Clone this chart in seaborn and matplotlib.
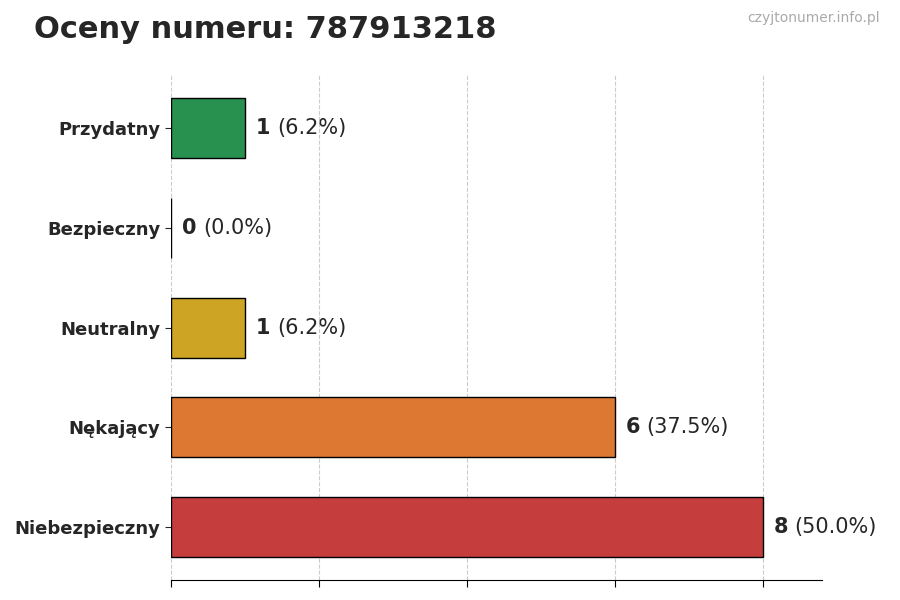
import matplotlib
matplotlib.use("Agg")
import matplotlib.pyplot as plt
import seaborn as sns
import pandas as pd

# dane
kategorie = ['Przydatny', 'Bezpieczny', 'Neutralny', 'Nękający', 'Niebezpieczny']
liczby = [1, 0, 1, 6, 8]
kolory = ['#16a34a', '#2563eb', '#eab308', '#f97316', '#dc2626']
numer = '787913218'

df = pd.DataFrame({'kat': kategorie, 'n': liczby})
suma = sum(liczby)

sns.set_style('white')
plt.rcParams['font.family'] = ['DejaVu Sans']

fig = plt.figure(figsize=(9, 6), dpi=100)
ax = fig.add_axes([0.19, 0.033, 0.723, 0.842])

sns.barplot(data=df, y='kat', x='n', hue='kat', palette=kolory, orient='h',
            width=0.6, edgecolor='black', linewidth=1, legend=False, ax=ax)

ax.set_xlim(0, 8.8)
ax.set_ylim(4.53, -0.53)
ax.set_xticks([0, 2, 4, 6, 8])
ax.set_xticklabels([])
ax.tick_params(axis='x', length=5, color='black', bottom=True)
ax.tick_params(axis='y', length=4, left=True, labelsize=13)
for lab in ax.get_yticklabels():
    lab.set_fontweight('bold')
ax.set_xlabel('')
ax.set_ylabel('')
ax.grid(True, axis='x', linestyle='--', linewidth=0.8, color='#cccccc')
ax.set_axisbelow(True)
for s in ['top', 'right', 'left']:
    ax.spines[s].set_visible(False)
ax.spines['bottom'].set_color('black')

for i, v in enumerate(liczby):
    ax.annotate(str(v), (v, i), xytext=(11, 0), textcoords='offset pixels',
                va='center', ha='left', fontsize=15, fontweight='bold')
    ax.annotate(f'({v / suma * 100:.1f}%)', (v, i), xytext=(32, 0),
                textcoords='offset pixels', va='center', ha='left', fontsize=15)

fig.text(0.038, 0.95, f'Oceny numeru: {numer}', fontsize=22, fontweight='bold',
         va='center', ha='left')
fig.text(0.978, 0.97, 'czyjtonumer.info.pl', fontsize=10, color='#aaaaaa',
         va='center', ha='right')

fig.savefig('out.png', dpi=100)
